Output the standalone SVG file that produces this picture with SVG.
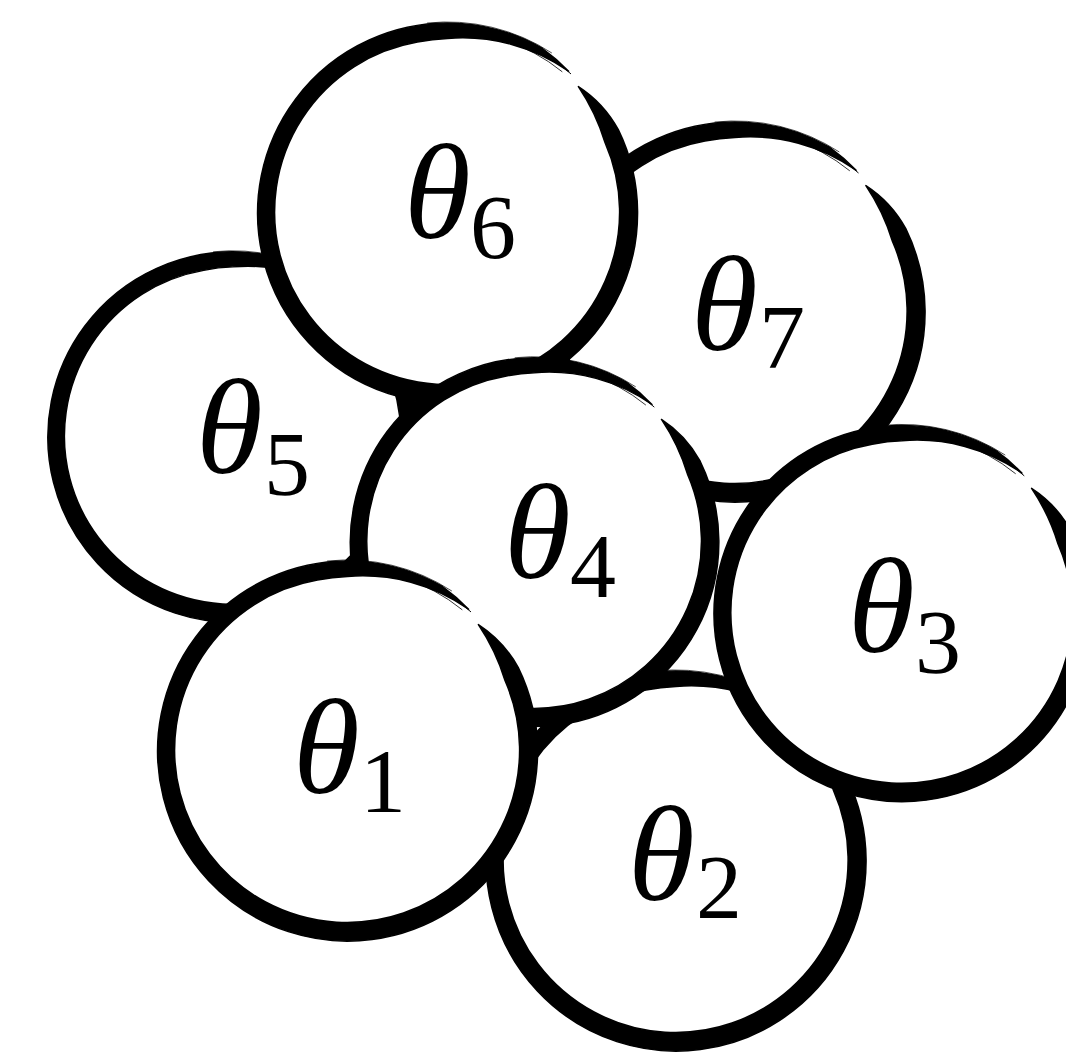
<svg xmlns="http://www.w3.org/2000/svg" xmlns:xlink="http://www.w3.org/1999/xlink" width="1066" height="1054" viewBox="0 0 1066 1054">
<style>
.lbl{font-family:"Liberation Serif","Times New Roman",serif;fill:#000}
.th{font-style:italic;font-size:136px}
.sub{font-size:92px}
.band{fill:#000;stroke:#000;stroke-width:1.5;stroke-linejoin:round}
.hair{fill:none;stroke:#000;stroke-linecap:round}
</style>
<defs>
<g id="ring">
<circle cx="0" cy="0" r="181" fill="#fff"/>
<path class="band" d="M 130.9 -126.4 A 120 120 0 0 1 170.8 -83.3 A 190 190 0 1 1 95.0 -164.5 A 188 188 0 0 1 121.1 -141.8 A 185 185 0 0 0 0 -174.5 A 173.5 173.5 0 0 0 -30.1 -170.9 A 172.5 172.5 0 1 0 157.6 -70.2 A 210 210 0 0 0 130.9 -126.4 Z"/>
<path class="hair" stroke-width="1" d="M 32.3 -183.2 A 186 186 0 0 1 123.2 -139.3"/>
<path class="hair" stroke-width="0.8" d="M 56.2 -173.1 A 182 182 0 0 1 114.5 -141.4"/>
<path class="hair" stroke-width="0.7" d="M -20.0 -190.0 A 191 191 0 0 1 104.0 -160.2"/>
</g>
</defs>
<g id="theta7">
<use xlink:href="#ring" href="#ring" transform="translate(735,312)"/>
<text class="lbl"><tspan class="th" x="691" y="350">θ</tspan><tspan class="sub" x="759" y="368">7</tspan></text>
</g>
<g id="theta5">
<use xlink:href="#ring" href="#ring" transform="translate(233,437) scale(0.975)"/>
<text class="lbl"><tspan class="th" x="196" y="473">θ</tspan><tspan class="sub" x="264" y="495">5</tspan></text>
</g>
<g id="theta2">
<use xlink:href="#ring" href="#ring" transform="translate(676,861)"/>
<text class="lbl"><tspan class="th" x="628" y="900">θ</tspan><tspan class="sub" x="696" y="918">2</tspan></text>
</g>
<g id="theta6">
<use xlink:href="#ring" href="#ring" transform="translate(447.5,213)"/>
<text class="lbl"><tspan class="th" x="404" y="238">θ</tspan><tspan class="sub" x="470" y="258">6</tspan></text>
</g>
<g id="theta4">
<use xlink:href="#ring" href="#ring" transform="translate(534.5,542) scale(0.97)"/>
<text class="lbl"><tspan class="th" x="504" y="578">θ</tspan><tspan class="sub" x="570" y="597">4</tspan></text>
</g>
<g id="theta3">
<use xlink:href="#ring" href="#ring" transform="translate(902,613.5) scale(0.99)"/>
<text class="lbl"><tspan class="th" x="848" y="652">θ</tspan><tspan class="sub" x="915" y="673">3</tspan></text>
</g>
<g id="theta1">
<use xlink:href="#ring" href="#ring" transform="translate(347.5,751)"/>
<text class="lbl"><tspan class="th" x="293" y="793">θ</tspan><tspan class="sub" x="360" y="812">1</tspan></text>
</g>
</svg>
